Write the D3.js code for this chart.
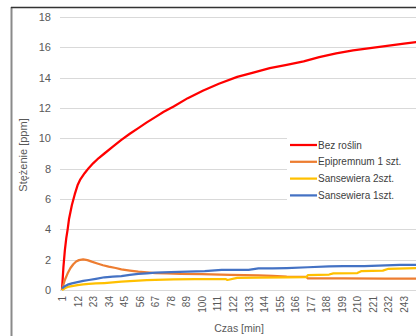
<!DOCTYPE html>
<html><head><meta charset="utf-8">
<script src="https://cdn.jsdelivr.net/npm/d3@7"></script>
<style>body{margin:0;background:#fff}svg{display:block}text{font-family:"Liberation Sans",Arial,sans-serif}</style>
</head><body>
<script>
// Data
const seriesNames = ["Bez roślin", "Epipremnum 1 szt.", "Sansewiera 2szt.", "Sansewiera 1szt."];
const seriesColors = ["#FF0000", "#ED7D31", "#FFC000", "#4472C4"];
const xTickLabels = [1,12,23,34,45,56,67,78,89,100,111,122,133,144,155,166,177,188,199,210,221,232,243];
const yTicks = [0,2,4,6,8,10,12,14,16,18];

const redT = [1,2,3,4,5,6,8,10,12,14,17,20,23,27,31,37,43,49,55,61,67,73,80,90,101,112,125,137,148,160,172,183,195,207,219,231,243,252];
const redV = [0,1.5,2.6,3.4,4.0,4.7,5.6,6.3,6.9,7.3,7.7,8.05,8.35,8.7,9.0,9.45,9.9,10.3,10.67,11.05,11.4,11.75,12.1,12.65,13.15,13.6,14.05,14.35,14.63,14.85,15.07,15.35,15.6,15.8,15.95,16.1,16.25,16.35];

const orangeT = [1,2,3,5,7,9,11,13,16,19,22,26,30,34,39,43,49,55,61,67,75,85,100,120,140,150,160,174,175,200,230,252];
const orangeV = [0,0.35,0.66,1.1,1.45,1.7,1.88,1.97,2.02,1.97,1.87,1.75,1.63,1.54,1.45,1.36,1.28,1.21,1.16,1.12,1.1,1.06,1.04,1.0,0.96,0.93,0.88,0.86,0.76,0.76,0.75,0.75];

const yellowT = [1,3,5,8,12,16,20,25,31,37,43,49,55,61,67,80,95,110,117,118,125,140,160,174,175,190,193,210,213,228,232,245,252];
const yellowV = [0,0.12,0.2,0.25,0.32,0.37,0.4,0.43,0.46,0.5,0.55,0.58,0.62,0.65,0.66,0.7,0.72,0.72,0.72,0.66,0.8,0.82,0.84,0.85,0.98,1.02,1.1,1.12,1.25,1.28,1.4,1.43,1.45];

const blueT = [1,3,5,8,12,16,20,25,31,37,43,49,55,61,67,78,90,102,114,125,133,140,150,160,175,190,200,215,230,240,252];
const blueV = [0.1,0.25,0.35,0.44,0.52,0.6,0.66,0.74,0.84,0.88,0.92,1.0,1.06,1.1,1.14,1.18,1.21,1.25,1.32,1.33,1.33,1.42,1.42,1.45,1.5,1.56,1.58,1.58,1.62,1.65,1.65];

const allT = [redT, orangeT, yellowT, blueT];
const allV = [redV, orangeV, yellowV, blueV];

const W = 416, H = 336;
const svg = d3.select("body").append("svg").attr("width", W).attr("height", H);

// frame (cropped chart border)
svg.append("line").attr("x1",11.5).attr("x2",11.5).attr("y1",7).attr("y2",H).attr("stroke","#8a8a8a").attr("stroke-width",2);
svg.append("line").attr("x1",11).attr("x2",W).attr("y1",7.5).attr("y2",7.5).attr("stroke","#333").attr("stroke-width",1.5);

const x = d3.scaleLinear().domain([1, 243]).range([62, 404]);
const y = d3.scaleLinear().domain([0, 18]).range([290, 17]);

// gridlines
svg.append("g").selectAll("line").data(yTicks).join("line")
  .attr("x1",60).attr("x2",W)
  .attr("y1",d=>Math.round(y(d))+0.5).attr("y2",d=>Math.round(y(d))+0.5)
  .attr("stroke","#D9D9D9").attr("stroke-width",1);

// y axis labels
const yAxis = d3.axisLeft(y).tickValues(yTicks).tickSize(0).tickPadding(0);
const gy = svg.append("g").attr("transform","translate(51,0)").call(yAxis);
gy.select(".domain").remove();
gy.selectAll("text").attr("fill","#595959").style("font-size","11px").style("font-family","'Liberation Sans',Arial,sans-serif");

// x axis labels
const xAxis = d3.axisBottom(x).tickValues(xTickLabels).tickSize(0).tickFormat(d=>String(d));
const gx = svg.append("g").attr("transform","translate(0,296)").call(xAxis);
gx.select(".domain").remove();
gx.selectAll("text").attr("fill","#595959").style("font-size","10px").style("font-family","'Liberation Sans',Arial,sans-serif")
  .attr("text-anchor","end").attr("dy","0.35em").attr("y",0)
  .attr("transform","rotate(-90)").attr("x",0);

// lines
const line = d3.line().x(d=>x(d[0])).y(d=>y(d[1]));
const clip = svg.append("clipPath").attr("id","c").append("rect").attr("x",55).attr("y",10).attr("width",W-55).attr("height",290);
allT.forEach((ts,i)=>{
  const pts = ts.map((t,j)=>[t, allV[i][j]]);
  svg.append("path").datum(pts).attr("d",line).attr("fill","none")
    .attr("stroke",seriesColors[i]).attr("stroke-width",2.25).attr("stroke-linejoin","round")
    .attr("clip-path","url(#c)");
});

// legend
const lg = svg.append("g");
lg.append("rect").attr("x",287).attr("y",134).attr("width",W-287).attr("height",70).attr("fill","#fff");
seriesNames.forEach((n,i)=>{
  const yy = 145 + i*16.8;
  lg.append("line").attr("x1",290).attr("x2",317).attr("y1",yy).attr("y2",yy).attr("stroke",seriesColors[i]).attr("stroke-width",2.25);
  lg.append("text").attr("x",318).attr("y",yy).attr("dy","0.35em").text(n).attr("fill","#404040").style("font-size","10px");
});

// axis titles
svg.append("text").attr("x",239).attr("y",328).attr("dy","0.35em").attr("text-anchor","middle")
  .attr("fill","#595959").style("font-size","10.5px").text("Czas [min]");
svg.append("text").attr("transform","translate(23,155) rotate(-90)").attr("dy","0.35em").attr("text-anchor","middle")
  .attr("fill","#595959").style("font-size","11px").text("Stężenie [ppm]");
</script>
</body></html>
